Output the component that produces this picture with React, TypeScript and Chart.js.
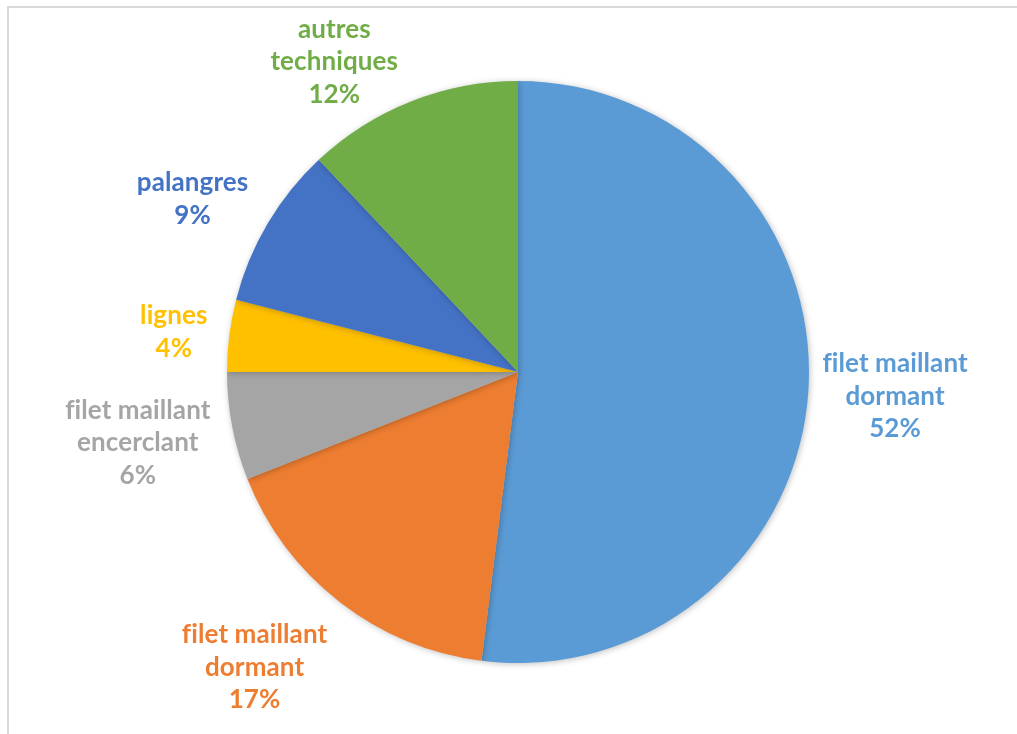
import React, { useEffect, useRef } from "react";
import { Chart, registerables } from "chart.js";

Chart.register(...registerables);

const categories: string[][] = [
  ["filet maillant", "dormant"],
  ["filet maillant", "dormant"],
  ["filet maillant", "encerclant"],
  ["lignes"],
  ["palangres"],
  ["autres", "techniques"],
];
const values: number[] = [52, 17, 6, 4, 9, 12];
const percentLabels: string[] = ["52%", "17%", "6%", "4%", "9%", "12%"];
const colors: string[] = ["#5B9BD5", "#ED7D31", "#A5A5A5", "#FFC000", "#4472C4", "#70AD47"];
// small manual label nudges (x, y) in px, mimicking the spreadsheet's best-fit placement
const labelNudges: number[][] = [[-6, 0], [-6, 1], [-2, -1], [-2, 5], [-2, 10], [-34, 3]];

const FONT = "bold 26px Lato";
const LINE_H = 32.5;
const GAP = 20;
const TOP_LIMIT = 10;

const clamp = (v: number) => Math.max(-1, Math.min(1, v));

const labelPlugin = {
  id: "outsideLabels",
  afterDatasetsDraw(chart: any) {
    const ctx = chart.ctx as CanvasRenderingContext2D;
    const meta = chart.getDatasetMeta(0);
    ctx.save();
    ctx.font = FONT;
    (ctx as any).letterSpacing = "0.1px";
    ctx.textAlign = "center";
    ctx.textBaseline = "middle";
    meta.data.forEach((arc: any, i: number) => {
      const { x, y, startAngle, endAngle, outerRadius } = arc.getProps(
        ["x", "y", "startAngle", "endAngle", "outerRadius"],
        true
      );
      const mid = (startAngle + endAngle) / 2;
      const lines = [...categories[i], percentLabels[i]];
      const w = Math.max(...lines.map((l) => ctx.measureText(l).width));
      const h = lines.length * LINE_H;
      const px = x + (outerRadius + GAP) * Math.cos(mid);
      const py = y + (outerRadius + GAP) * Math.sin(mid);
      let cx = px + (w / 2) * clamp(1.5 * Math.cos(mid));
      let cy = py + (h / 2) * clamp(1.5 * Math.sin(mid));
      if (cy - h / 2 < TOP_LIMIT) cy = TOP_LIMIT + h / 2;
      cx += labelNudges[i][0];
      cy += labelNudges[i][1];
      ctx.fillStyle = colors[i];
      lines.forEach((l, k) => {
        ctx.fillText(l, cx, cy - h / 2 + LINE_H / 2 + k * LINE_H);
      });
    });
    ctx.restore();
  },
};

const shadowPlugin = {
  id: "pieShadow",
  beforeDatasetsDraw(chart: any) {
    const ctx = chart.ctx as CanvasRenderingContext2D;
    ctx.save();
    ctx.shadowColor = "rgba(0,0,0,0.25)";
    ctx.shadowBlur = 6;
    ctx.shadowOffsetX = 1;
    ctx.shadowOffsetY = 1;
  },
  afterDatasetsDraw(chart: any) {
    chart.ctx.restore();
  },
};

export default function App() {
  const ref = useRef<HTMLCanvasElement | null>(null);
  useEffect(() => {
    document.body.style.margin = "0";
    document.body.style.overflow = "hidden";
    const chart = new Chart(ref.current as HTMLCanvasElement, {
      type: "pie",
      data: {
        labels: categories.map((c) => c.join(" ")),
        datasets: [
          {
            data: values,
            backgroundColor: colors,
            borderWidth: 0,
          },
        ],
      },
      options: {
        responsive: false,
        animation: false,
        layout: { padding: { left: 227, right: 208, top: 81, bottom: 71 } },
        plugins: {
          legend: { display: false },
          tooltip: { enabled: false },
        },
      },
      plugins: [shadowPlugin, labelPlugin],
    });
    return () => chart.destroy();
  }, []);
  return (
    <div style={{ position: "relative", width: 1017, height: 734, background: "#fff" }}>
      <div
        style={{
          position: "absolute",
          left: 7,
          top: 6,
          right: 0,
          bottom: 0,
          borderLeft: "2px solid #d9d9d9",
          borderTop: "2px solid #d9d9d9",
        }}
      />
      <canvas
        ref={ref}
        width={1017}
        height={734}
        style={{ position: "absolute", left: 0, top: 0, width: 1017, height: 734 }}
      />
    </div>
  );
}
